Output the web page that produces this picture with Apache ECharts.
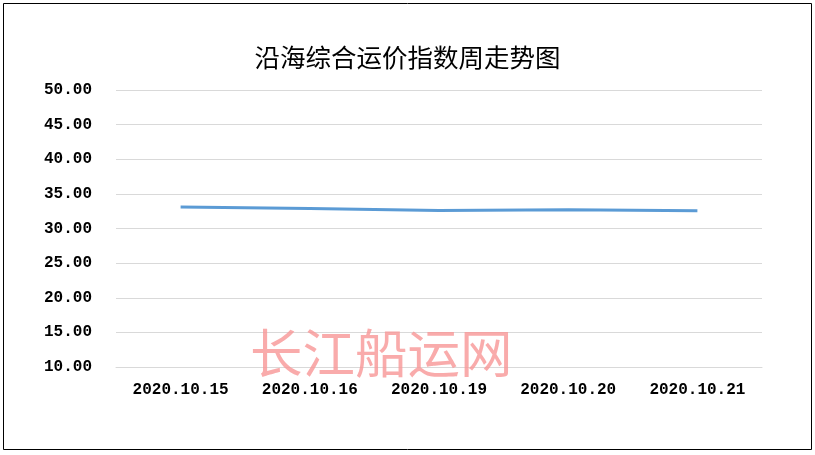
<!DOCTYPE html>
<html><head><meta charset="utf-8">
<script src="https://cdn.jsdelivr.net/npm/echarts@6/dist/echarts.min.js"></script>
<style>html,body{margin:0;padding:0;background:#fff}#c{width:815px;height:455px}</style>
</head><body><div id="c"></div>
<script>
var categories = ['2020.10.15','2020.10.16','2020.10.19','2020.10.20','2020.10.21'];
var values = [33.09, 32.90, 32.61, 32.71, 32.58];
var yTicks = {min: 10, max: 50, interval: 5};
var titleText = '沿海综合运价指数周走势图';
var watermark = '长江船运网';

var chart = echarts.init(document.getElementById('c'));
chart.setOption({
  animation: false,
  backgroundColor: '#fff',
  title: {text: titleText, left: 'center', top: 40,
    textStyle: {fontFamily: 'Noto Sans CJK SC', fontSize: 25.5, fontWeight: 'normal', color: '#000'}},
  grid: {left: 116, right: 53, top: 90, bottom: 88},
  xAxis: {type: 'category', data: categories, boundaryGap: true,
    axisLine: {show: true, lineStyle: {color: '#d9d9d9'}}, axisTick: {show: false},
    axisLabel: {color: '#000', fontFamily: 'Liberation Mono', fontWeight: 'bold', fontSize: 16, margin: 15}},
  yAxis: {type: 'value', min: yTicks.min, max: yTicks.max, interval: yTicks.interval,
    axisLine: {show: false}, axisTick: {show: false},
    splitLine: {lineStyle: {color: '#d9d9d9'}},
    axisLabel: {color: '#000', fontFamily: 'Liberation Mono', fontWeight: 'bold', fontSize: 16, margin: 24,
      padding: [4, 0, 0, 0],
      formatter: function(v){return v.toFixed(2);}}},
  series: [{type: 'line', data: values, symbol: 'none', smooth: false,
    lineStyle: {color: '#5b9bd5', width: 3}}],
  graphic: [
    {type: 'rect', shape: {x: 3.5, y: 3.5, width: 808, height: 446}, style: {fill: 'none', stroke: '#000', lineWidth: 1}, z: 100},
    {type: 'text', left: 250, top: 327, z: 50, style: {text: watermark, fontFamily: 'Noto Sans CJK SC', fontSize: 52.5, fill: 'rgba(248,150,150,0.8)',
      shadowColor: 'rgba(120,120,120,0.5)', shadowBlur: 3, shadowOffsetX: 1, shadowOffsetY: 1}}
  ]
});
</script></body></html>
